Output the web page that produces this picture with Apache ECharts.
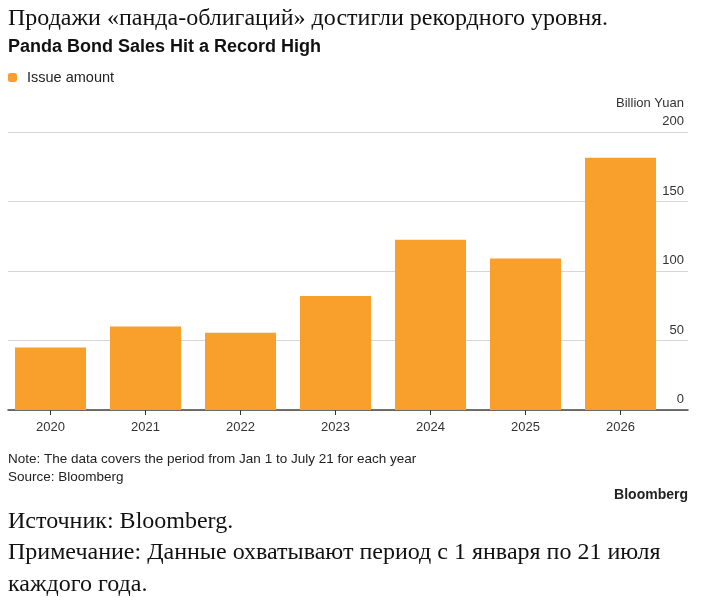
<!DOCTYPE html>
<html>
<head>
<meta charset="utf-8">
<script src="https://cdn.jsdelivr.net/npm/echarts@6/dist/echarts.min.js"></script>
<style>
  html, body { margin: 0; padding: 0; background: #fff; }
  #chart { width: 702px; height: 602px; }
</style>
</head>
<body>
<div id="chart"></div>
<script>
var years = ["2020", "2021", "2022", "2023", "2024", "2025", "2026"];
var issueAmount = [45, 60, 55.5, 82, 122.5, 109, 181.5];
var yMin = 0;
var yMax = 200;
var yStep = 50;

var serif = "'Liberation Serif', 'DejaVu Serif', serif";
var sans = "'Liberation Sans', Arial, sans-serif";
var orange = "#F8A02B";

var myChart = echarts.init(document.getElementById("chart"), null, { width: 702, height: 602 });

var option = {
  backgroundColor: "#fff",
  animation: false,
  legend: {
    left: 8,
    top: 70,
    padding: 0,
    icon: "roundRect",
    itemWidth: 9,
    itemHeight: 9,
    itemGap: 10,
    textStyle: { fontFamily: sans, fontSize: 14.5, color: "#222", padding: [0, 0, 0, 5] },
    data: ["Issue amount"]
  },
  grid: [
    // bars
    { left: 3, top: 132, width: 665, height: 278, outerBoundsMode: "none", containLabel: false },
    // gridlines and axis line
    { left: 8, top: 132, width: 680, height: 278, outerBoundsMode: "none", containLabel: false }
  ],
  xAxis: [
    {
      type: "category",
      gridIndex: 0,
      data: years,
      axisLine: { show: false },
      axisTick: { show: true, alignWithLabel: true, length: 5, lineStyle: { color: "#333", width: 1 } },
      axisLabel: { margin: 11, fontFamily: sans, fontSize: 13, color: "#333" }
    },
    {
      type: "value",
      gridIndex: 1,
      min: 0,
      max: 1,
      axisLine: { show: true, onZero: false, lineStyle: { color: "#444", width: 1.5 } },
      axisTick: { show: false },
      axisLabel: { show: false },
      splitLine: { show: false }
    }
  ],
  yAxis: [
    {
      type: "value",
      gridIndex: 0,
      min: yMin,
      max: yMax,
      interval: yStep,
      show: false
    },
    {
      type: "value",
      gridIndex: 1,
      position: "right",
      min: yMin,
      max: yMax,
      interval: yStep,
      axisLine: { show: false },
      axisTick: { show: false },
      axisLabel: {
        inside: true,
        margin: 4,
        verticalAlign: "bottom",
        padding: [0, 0, 4, 0],
        fontFamily: sans,
        fontSize: 13,
        color: "#333"
      },
      splitLine: { show: true, lineStyle: { color: "#d6d6d6", width: 1 } }
    }
  ],
  series: [
    {
      name: "Issue amount",
      type: "bar",
      xAxisIndex: 0,
      yAxisIndex: 0,
      data: issueAmount,
      barWidth: 71,
      itemStyle: { color: orange },
      z: 3
    }
  ],
  graphic: [
    { type: "text", left: 8, top: 7, style: { text: "Продажи «панда-облигаций» достигли рекордного уровня.", font: "24px " + serif, fill: "#111" } },
    { type: "text", left: 8, top: 38, style: { text: "Panda Bond Sales Hit a Record High", font: "bold 18px " + sans, fill: "#111" } },
    { type: "text", right: 18, top: 97, style: { text: "Billion Yuan", font: "13px " + sans, fill: "#333" } },
    { type: "text", left: 8, top: 452, style: { text: "Note: The data covers the period from Jan 1 to July 21 for each year", font: "13.5px " + sans, fill: "#222" } },
    { type: "text", left: 8, top: 470, style: { text: "Source: Bloomberg", font: "13.5px " + sans, fill: "#222" } },
    { type: "text", right: 14, top: 488, style: { text: "Bloomberg", font: "bold 14px " + sans, fill: "#222" } },
    { type: "text", left: 8, top: 510, style: { text: "Источник: Bloomberg.", font: "24px " + serif, fill: "#111" } },
    { type: "text", left: 8, top: 541, style: { text: "Примечание: Данные охватывают период с 1 января по 21 июля", font: "24px " + serif, fill: "#111" } },
    { type: "text", left: 8, top: 573, style: { text: "каждого года.", font: "24px " + serif, fill: "#111" } }
  ]
};
myChart.setOption(option);
</script>
</body>
</html>
